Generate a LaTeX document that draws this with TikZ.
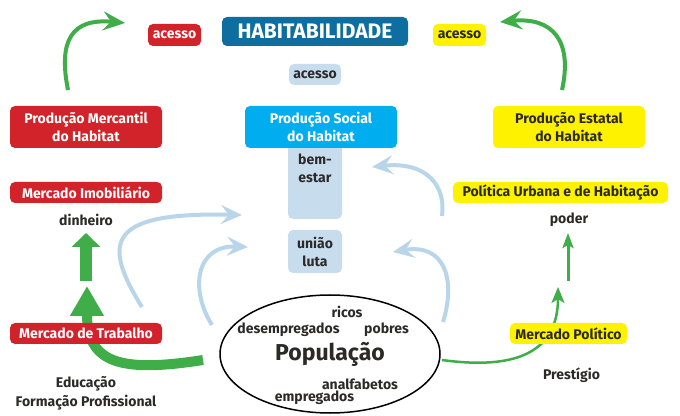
\documentclass[tikz,border=0pt]{standalone}
\usepackage{fontspec}
\setmainfont{Fira Sans}
\usetikzlibrary{positioning}
\usetikzlibrary{shapes,arrows}
\usetikzlibrary{arrows.meta,shapes.geometric,backgrounds}
\definecolor{vermelho}{HTML}{D2232A}
\definecolor{azulescuro}{HTML}{0E6E9F}
\definecolor{ciano}{HTML}{00AEEF}
\definecolor{amarelo}{HTML}{FFF200}
\definecolor{azulclaro}{HTML}{C7DDED}
\definecolor{setaazul}{HTML}{B9D5EA}
\definecolor{verde}{HTML}{3FAE49}
\definecolor{texto}{HTML}{2B2A29}

\begin{document}
\begin{tikzpicture}[x=1pt, y=1pt, >=stealth', text=texto, font=\bfseries\fontsize{14}{18}\selectfont]
\tikzstyle{caixa}=[rounded corners=5pt, inner sep=0pt, align=center]
\tikzstyle{vermelha}=[caixa, fill=vermelho, text=white]
\tikzstyle{amarela}=[caixa, fill=amarelo]
\tikzstyle{clara}=[caixa, fill=azulclaro]
\tikzstyle{linha}=[minimum width=152pt, minimum height=21pt]
\tikzstyle{dupla}=[minimum width=152pt, minimum height=42pt]
\tikzstyle{palavra}=[inner sep=0pt, align=center]
\tikzstyle{seta azul}=[draw=setaazul, line width=4pt, -{Stealth[length=21pt,width=19pt,inset=8pt]}]
\tikzstyle{seta verde}=[draw=verde, line width=4pt, -{Stealth[length=22pt,width=19pt,inset=8pt]}]
\useasboundingbox (0,0) rectangle (680,415);

\node[caixa, fill=azulescuro, text=white, minimum width=186pt, minimum height=29pt,
  font=\bfseries\fontsize{21}{23}\selectfont] (1) at (315,383.5) {HABITABILIDADE};
\node[vermelha, minimum width=53pt, minimum height=22pt] (2) at (174.5,380) {acesso};
\node[amarela, minimum width=53pt, minimum height=22pt] (3) at (459.5,380) {acesso};
\node[clara, minimum width=52pt, minimum height=21pt] (4) at (315,340.5) {acesso};

\node[vermelha, dupla] (5) at (86,288) {Produção Mercantil\\do Habitat};
\node[clara, minimum width=54pt, minimum height=78pt,
  label={[palavra, anchor=north, yshift=-13pt]north:bem-\\estar}] (8) at (315,235) {};
\node[caixa, fill=ciano, text=white, dupla] (6) at (321,288) {Produção Social\\do Habitat};
\node[amarela, dupla] (7) at (569,288) {Produção Estatal\\do Habitat};
\node[clara, minimum width=54pt, minimum height=43pt] (9) at (315,163.5) {união\\luta};

\node[vermelha, linha] (10) at (86,222.5) {Mercado Imobiliário};
\node[palavra] (11) at (86,195) {dinheiro};
\node[amarela, minimum width=215pt, minimum height=21pt] (12) at (560.5,222.5) {Política Urbana e de Habitação};
\node[palavra] (13) at (569,195) {poder};

\node[vermelha, linha] (14) at (86,81.5) {Mercado de Trabalho};
\node[amarela, minimum width=117pt, minimum height=21pt] (15) at (568.5,81.5) {Mercado Político};
\node[palavra] (16) at (86,21.5) {Educação\\[1pt]Formação Profissional};
\node[palavra] (17) at (571.5,40) {Prestígio};

\node[ellipse, draw=black, line width=1.5pt, fill=white, minimum width=220pt, minimum height=118pt,
  inner sep=0pt, font=\bfseries\fontsize{23}{25}\selectfont] (18) at (330,61) {População};
\node[palavra] (19) at (347,103) {ricos};
\node[palavra] (20) at (288.5,85) {desempregados};
\node[palavra] (21) at (386.5,85) {pobres};
\node[palavra] (22) at (360,31) {analfabetos};
\node[palavra] (23) at (314.5,17) {empregados};

\begin{scope}[on background layer]
\coordinate (a1) at (68,325);  \coordinate (b1) at (125,392);
\coordinate (a2) at (562,325); \coordinate (b2) at (500,393);
\coordinate (a3) at (142,108); \coordinate (b3) at (242,200);
\coordinate (a4) at (212,90);  \coordinate (b4) at (248,168);
\coordinate (a5) at (443,93);  \coordinate (b5) at (393,163);
\coordinate (a6) at (442,199); \coordinate (b6) at (372,248);
\coordinate (a7) at (203,55);  \coordinate (b7) at (87,129);
\coordinate (a8) at (86,134);  \coordinate (b8) at (86,182);
\coordinate (a9) at (442,55);  \coordinate (b9) at (558,128);
\coordinate (a10) at (568,134); \coordinate (b10) at (568,182);

\draw[seta verde] (a1) .. controls (58,375) and (72,397) .. (b1);
\draw[seta verde] (a2) .. controls (573,375) and (552,398) .. (b2);
\draw[seta azul] (a3) .. controls (100,175) and (110,203) .. (b3);
\draw[seta azul] (a4) .. controls (190,125) and (195,170) .. (b4);
\draw[seta azul] (a5) .. controls (456,135) and (445,172) .. (b5);
\draw[seta azul] (a6) .. controls (446,228) and (428,254) .. (b6);
\draw[draw=verde, line width=10pt, -{Triangle[length=30pt,width=32pt]}]
  (a7) .. controls (120,42) and (87,52) .. (b7);
\draw[draw=verde, line width=2.5pt, -{Stealth[length=16pt,width=13pt,inset=4pt]}]
  (a9) .. controls (515,45) and (558,62) .. (b9);
\path
(a8) edge[draw=verde, line width=12pt, -{Triangle[length=14pt,width=28pt]}] (b8)
(a10) edge[draw=verde, line width=3pt, -{Stealth[length=15pt,width=11pt,inset=3pt]}] (b10)
;
\end{scope}
\end{tikzpicture}
\end{document}
